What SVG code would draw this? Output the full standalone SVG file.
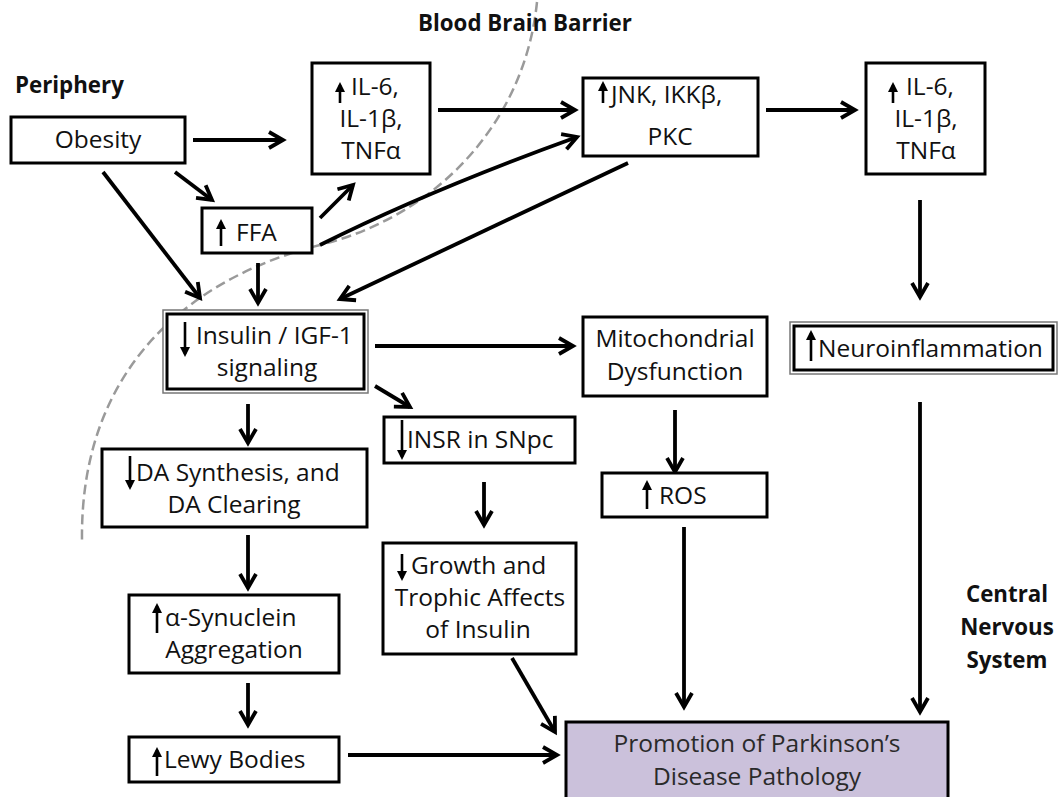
<svg xmlns="http://www.w3.org/2000/svg" width="1060" height="797" viewBox="0 0 1060 797">
<style>
.box{fill:#fff;stroke:#000;stroke-width:3}
.t{font-family:"Open Sans","Liberation Sans",sans-serif;font-size:24.5px;fill:#111}
.m{text-anchor:middle}
.b{font-family:"Open Sans","Liberation Sans",sans-serif;font-size:22.3px;font-weight:bold;fill:#111}
.c{fill:none;stroke:#000;stroke-width:3.8}
.s{stroke:#000;stroke-width:2.6;fill:none}
</style>
<defs>
<marker id="ah" markerUnits="userSpaceOnUse" viewBox="0 0 20 20" markerWidth="20" markerHeight="20" refX="15" refY="10" orient="auto" overflow="visible">
<path d="M1,2 L15,10 L1,18" fill="none" stroke="#000" stroke-width="3.8"/>
</marker>
<marker id="sh" markerUnits="userSpaceOnUse" viewBox="0 0 10 10" markerWidth="11" markerHeight="10" refX="7" refY="5" orient="auto">
<path d="M0,0 L10,5 L0,10 z" fill="#000"/>
</marker>
</defs>
<rect width="1060" height="797" fill="#fff"/>

<path id="bbb" d="M537,2 C525,120 440,215 320,245 C200,275 80,360 82,540" fill="none" stroke="#9a9a9a" stroke-width="2.5" stroke-dasharray="10,5"/>

<text class="b" x="15" y="93">Periphery</text>
<text class="b" x="418" y="31">Blood Brain Barrier</text>
<text class="b m" x="1007" y="602">Central</text>
<text class="b m" x="1007" y="635">Nervous</text>
<text class="b m" x="1007" y="668">System</text>

<g id="connectors">
<line class="c" x1="193" y1="140" x2="283" y2="140" marker-end="url(#ah)"/>
<line class="c" x1="175" y1="172" x2="212" y2="200" marker-end="url(#ah)"/>
<line class="c" x1="103" y1="172" x2="200" y2="298" marker-end="url(#ah)"/>
<line class="c" x1="320" y1="218" x2="353" y2="185" marker-end="url(#ah)"/>
<line class="c" x1="258" y1="263" x2="258" y2="303" marker-end="url(#ah)"/>
<path class="c" d="M320,245 Q430,190 577,137" marker-end="url(#ah)"/>
<line class="c" x1="438" y1="110" x2="575" y2="110" marker-end="url(#ah)"/>
<line class="c" x1="628" y1="163" x2="340" y2="299" marker-end="url(#ah)"/>
<line class="c" x1="766" y1="110" x2="855" y2="110" marker-end="url(#ah)"/>
<line class="c" x1="920" y1="200" x2="920" y2="297" marker-end="url(#ah)"/>
<line class="c" x1="375" y1="346" x2="573" y2="346" marker-end="url(#ah)"/>
<line class="c" x1="375" y1="386" x2="410" y2="407" marker-end="url(#ah)"/>
<line class="c" x1="248" y1="404" x2="248" y2="443" marker-end="url(#ah)"/>
<line class="c" x1="675" y1="410" x2="675" y2="472" marker-end="url(#ah)"/>
<line class="c" x1="484" y1="482" x2="484" y2="525" marker-end="url(#ah)"/>
<line class="c" x1="248" y1="535" x2="248" y2="588" marker-end="url(#ah)"/>
<line class="c" x1="248" y1="683" x2="248" y2="725" marker-end="url(#ah)"/>
<line class="c" x1="348" y1="755" x2="557" y2="755" marker-end="url(#ah)"/>
<line class="c" x1="512" y1="658" x2="555" y2="732" marker-end="url(#ah)"/>
<line class="c" x1="684" y1="527" x2="684" y2="707" marker-end="url(#ah)"/>
<line class="c" x1="920" y1="402" x2="920" y2="712" marker-end="url(#ah)"/>
</g>

<g id="obesity">
<rect class="box" x="11" y="117" width="174" height="46"/>
<text class="t m" x="98" y="148">Obesity</text>
</g>

<g id="ffa">
<rect class="box" x="202" y="208" width="110" height="45"/>
<line class="s" x1="221" y1="246" x2="221" y2="222" marker-end="url(#sh)"/>
<text class="t" x="236" y="241">FFA</text>
</g>

<g id="il6-periphery">
<rect class="box" x="312" y="63" width="118" height="111"/>
<line class="s" x1="340" y1="103" x2="340" y2="85" marker-end="url(#sh)"/>
<text class="t" x="351" y="95">IL-6,</text>
<text class="t m" x="371" y="127">IL-1β,</text>
<text class="t m" x="371" y="159">TNFα</text>
</g>

<g id="jnk">
<rect class="box" x="583" y="78" width="175" height="78"/>
<line class="s" x1="603" y1="103" x2="603" y2="84" marker-end="url(#sh)"/>
<text class="t" x="611" y="103">JNK, IKKβ,</text>
<text class="t m" x="670" y="145">PKC</text>
</g>

<g id="il6-cns">
<rect class="box" x="866" y="63" width="119" height="111"/>
<line class="s" x1="893" y1="103" x2="893" y2="85" marker-end="url(#sh)"/>
<text class="t" x="906" y="95">IL-6,</text>
<text class="t m" x="926" y="127">IL-1β,</text>
<text class="t m" x="926" y="159">TNFα</text>
</g>

<g id="neuroinflammation">
<rect x="790" y="322" width="267" height="52" fill="#fff" stroke="#777" stroke-width="1.5"/>
<rect x="794" y="326" width="259" height="44" fill="none" stroke="#000" stroke-width="3"/>
<line class="s" x1="811" y1="361" x2="811" y2="333" marker-end="url(#sh)"/>
<text class="t" x="818" y="357">Neuroinflammation</text>
</g>

<g id="insulin">
<rect x="163" y="310" width="205" height="83" fill="#fff" stroke="#777" stroke-width="1.5"/>
<rect x="167" y="314" width="197" height="75" fill="none" stroke="#000" stroke-width="3"/>
<line class="s" x1="185" y1="322" x2="185" y2="354" marker-end="url(#sh)"/>
<text class="t" x="196" y="344">Insulin / IGF-1</text>
<text class="t m" x="267" y="376">signaling</text>
</g>

<g id="mito">
<rect class="box" x="583" y="317" width="184" height="79"/>
<text class="t m" x="675" y="347">Mitochondrial</text>
<text class="t m" x="675" y="380">Dysfunction</text>
</g>

<g id="da">
<rect class="box" x="102" y="449" width="265" height="78"/>
<line class="s" x1="130" y1="456" x2="130" y2="487" marker-end="url(#sh)"/>
<text class="t" x="136" y="481">DA Synthesis, and</text>
<text class="t m" x="234" y="513">DA Clearing</text>
</g>

<g id="insr">
<rect class="box" x="384" y="417" width="191" height="46"/>
<line class="s" x1="402" y1="420" x2="402" y2="457" marker-end="url(#sh)"/>
<text class="t" x="407" y="448">INSR in SNpc</text>
</g>

<g id="ros">
<rect class="box" x="602" y="473" width="165" height="44"/>
<line class="s" x1="647" y1="509" x2="647" y2="483" marker-end="url(#sh)"/>
<text class="t" x="659" y="504">ROS</text>
</g>

<g id="growth">
<rect class="box" x="383" y="543" width="193" height="111"/>
<line class="s" x1="402" y1="554" x2="402" y2="578" marker-end="url(#sh)"/>
<text class="t" x="411" y="574">Growth and</text>
<text class="t m" x="480" y="606">Trophic Affects</text>
<text class="t m" x="478" y="638">of Insulin</text>
</g>

<g id="synuclein">
<rect class="box" x="129" y="595" width="210" height="78"/>
<line class="s" x1="157" y1="633" x2="157" y2="606" marker-end="url(#sh)"/>
<text class="t" x="165" y="626">α-Synuclein</text>
<text class="t m" x="234" y="658">Aggregation</text>
</g>

<g id="lewy">
<rect class="box" x="129" y="737" width="210" height="45"/>
<line class="s" x1="157" y1="776" x2="157" y2="750" marker-end="url(#sh)"/>
<text class="t" x="164" y="768">Lewy Bodies</text>
</g>

<g id="promotion">
<rect x="566" y="722" width="382" height="90" fill="#cbc1db" stroke="#000" stroke-width="3"/>
<text class="t m" x="757" y="752" style="fill:#2a2a2a">Promotion of Parkinson’s</text>
<text class="t m" x="757" y="785" style="fill:#2a2a2a">Disease Pathology</text>
</g>
</svg>
